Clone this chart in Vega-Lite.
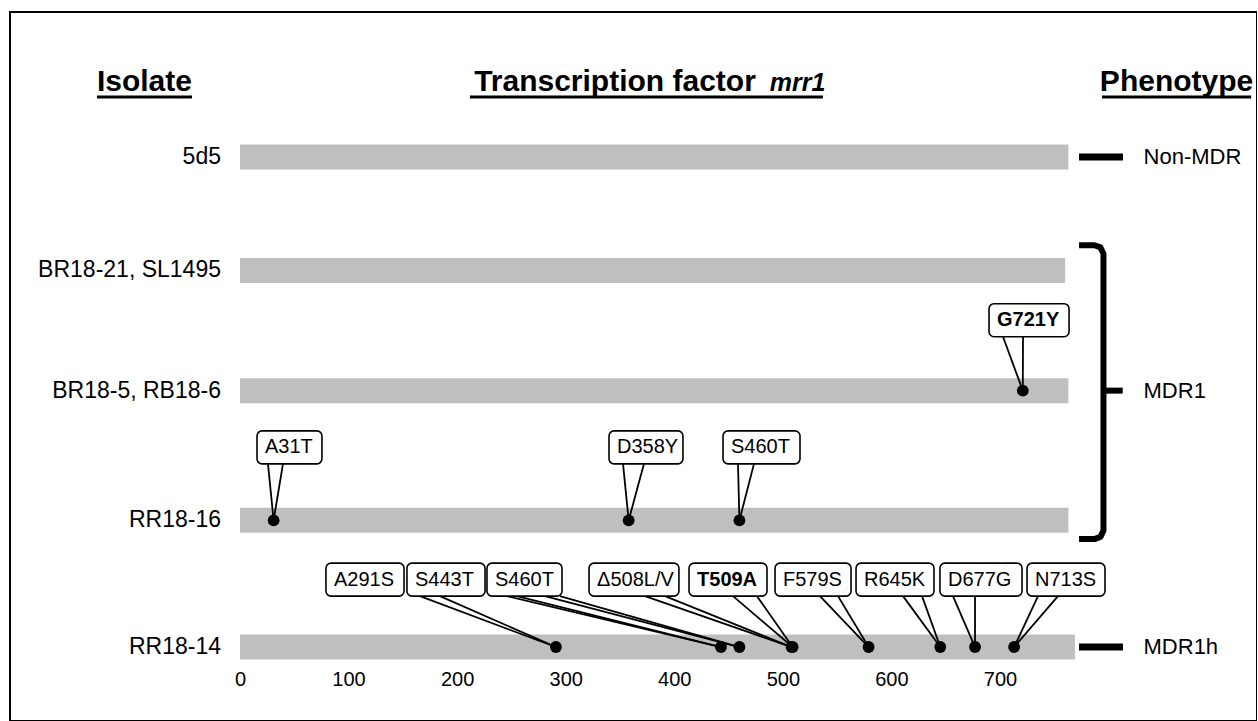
{
  "$schema": "https://vega.github.io/schema/vega-lite/v6.json",
  "width": 1247,
  "height": 709,
  "autosize": {"type": "none"},
  "padding": {"left": 10, "top": 12, "right": 0, "bottom": 0},
  "background": "white",
  "config": {
    "view": {"stroke": "#000", "strokeWidth": 2},
    "font": "Liberation Sans",
    "axisX": {"labelFontSize": 20, "labelFont": "Liberation Sans", "labelColor": "#000", "labelPadding": 0, "tickSize": 0, "ticks": false, "domain": false, "grid": false}
  },
  "datasets": {
    "isolates": [
      {"isolate": "5d5", "track": 0, "from": 0, "to": 763},
      {"isolate": "BR18-21, SL1495", "track": 0.926, "from": 0, "to": 760},
      {"isolate": "BR18-5, RB18-6", "track": 1.907, "from": 0, "to": 763},
      {"isolate": "RR18-16", "track": 2.966, "from": 0, "to": 763},
      {"isolate": "RR18-14", "track": 4, "from": 0, "to": 769}
    ],
    "mutations": [
      {"label": "A31T", "pos": 31, "track": 2.966, "lane": 2.37, "box_lo": 15.7, "box_hi": 75.5, "base_a": 25.8, "base_b": 39.6, "bold": false},
      {"label": "D358Y", "pos": 358, "track": 2.966, "lane": 2.37, "box_lo": 339.9, "box_hi": 408.0, "base_a": 352.8, "base_b": 372.1, "bold": false},
      {"label": "S460T", "pos": 460, "track": 2.966, "lane": 2.37, "box_lo": 444.9, "box_hi": 515.8, "base_a": 458.7, "base_b": 473.4, "bold": false},
      {"label": "G721Y", "pos": 721, "track": 1.907, "lane": 1.332, "box_lo": 689.9, "box_hi": 763.6, "base_a": 702.8, "base_b": 721.2, "bold": true},
      {"label": "A291S", "pos": 291, "track": 4, "lane": 3.45, "box_lo": 79.2, "box_hi": 151.1, "base_a": 165.8, "base_b": 184.2, "bold": false},
      {"label": "S443T", "pos": 443, "track": 4, "lane": 3.45, "box_lo": 153.8, "box_hi": 225.7, "base_a": 245.9, "base_b": 255.1, "bold": false},
      {"label": "S460T", "pos": 460, "track": 4, "lane": 3.45, "box_lo": 227.5, "box_hi": 296.6, "base_a": 280.9, "base_b": 294.7, "bold": false},
      {"label": "Δ508L/V", "pos": 508, "track": 4, "lane": 3.45, "box_lo": 321.5, "box_hi": 404.3, "base_a": 373.0, "base_b": 391.5, "bold": false},
      {"label": "T509A", "pos": 509, "track": 4, "lane": 3.45, "box_lo": 413.6, "box_hi": 485.4, "base_a": 454.1, "base_b": 476.2, "bold": true},
      {"label": "F579S", "pos": 579, "track": 4, "lane": 3.45, "box_lo": 492.8, "box_hi": 562.8, "base_a": 534.2, "base_b": 550.8, "bold": false},
      {"label": "R645K", "pos": 645, "track": 4, "lane": 3.45, "box_lo": 567.4, "box_hi": 639.2, "base_a": 610.7, "base_b": 628.2, "bold": false},
      {"label": "D677G", "pos": 677, "track": 4, "lane": 3.45, "box_lo": 644.7, "box_hi": 720.3, "base_a": 656.7, "base_b": 677.0, "bold": false},
      {"label": "N713S", "pos": 713, "track": 4, "lane": 3.45, "box_lo": 724.9, "box_hi": 796.7, "base_a": 735.0, "base_b": 753.4, "bold": false}
    ],
    "phenotypes": [
      {"phenotype": "Non-MDR", "track": 0},
      {"phenotype": "MDR1", "track": 1.907},
      {"phenotype": "MDR1h", "track": 4}
    ],
    "bracket": [
      {"ord": 1, "bx": 772.8, "by": 0.72},
      {"ord": 2, "bx": 787.0, "by": 0.72},
      {"ord": 3, "bx": 792.5, "by": 0.738},
      {"ord": 4, "bx": 795.3, "by": 0.79},
      {"ord": 5, "bx": 795.3, "by": 3.05},
      {"ord": 6, "bx": 792.5, "by": 3.101},
      {"ord": 7, "bx": 787.0, "by": 3.119},
      {"ord": 8, "bx": 772.8, "by": 3.119}
    ],
    "headers": [
      {"header": "Isolate", "hx": -88, "style": "normal", "ul_from": -131.7, "ul_to": -44.2},
      {"header": "Transcription factor", "hx": 345.4, "style": "normal", "ul_from": 211.8, "ul_to": 536.9},
      {"header": "mrr1", "hx": 513.5, "style": "italic"},
      {"header": "Phenotype", "hx": 862.6, "style": "normal", "ul_from": 794, "ul_to": 931.3}
    ]
  },
  "layer": [
    {
      "data": {"name": "isolates"},
      "mark": {"type": "bar", "size": 25, "color": "#bfbfbf"},
      "encoding": {
        "x": {
          "field": "from", "type": "quantitative", "title": null,
          "scale": {"domain": [-211.8, 936.7], "nice": false, "zero": false},
          "axis": {"values": [0, 100, 200, 300, 400, 500, 600, 700], "domain": false, "ticks": false, "tickSize": 0, "grid": false, "offset": -52, "labelPadding": 0, "labelFontSize": 20, "labelFont": "Liberation Sans", "labelColor": "#000", "labelFlush": false, "labelOverlap": false, "title": null}
        },
        "x2": {"field": "to"},
        "y": {"field": "track", "type": "quantitative", "scale": {"domain": [-1.143, 4.563], "nice": false, "zero": false, "reverse": true}, "axis": null}
      }
    },
    {
      "data": {"name": "isolates"},
      "mark": {"type": "text", "align": "right", "baseline": "middle", "fontSize": 23, "font": "Liberation Sans", "color": "#000"},
      "encoding": {
        "x": {"datum": -17.5, "type": "quantitative", "title": null, "scale": {"domain": [-211.8, 936.7], "nice": false, "zero": false}, "axis": {"values": [0, 100, 200, 300, 400, 500, 600, 700], "domain": false, "ticks": false, "tickSize": 0, "grid": false, "offset": -52, "labelPadding": 0, "labelFontSize": 20, "labelFont": "Liberation Sans", "labelColor": "#000", "labelFlush": false, "labelOverlap": false, "title": null}},
        "y": {"field": "track", "type": "quantitative", "scale": {"domain": [-1.143, 4.563], "nice": false, "zero": false, "reverse": true}, "axis": null},
        "text": {"field": "isolate"}
      }
    },
    {
      "data": {"name": "mutations"},
      "mark": {"type": "rule", "strokeWidth": 1.8, "color": "#000", "yOffset": 16.5},
      "encoding": {
        "x": {"field": "base_a", "type": "quantitative", "title": null, "scale": {"domain": [-211.8, 936.7], "nice": false, "zero": false}, "axis": {"values": [0, 100, 200, 300, 400, 500, 600, 700], "domain": false, "ticks": false, "tickSize": 0, "grid": false, "offset": -52, "labelPadding": 0, "labelFontSize": 20, "labelFont": "Liberation Sans", "labelColor": "#000", "labelFlush": false, "labelOverlap": false, "title": null}},
        "x2": {"field": "pos"},
        "y": {"field": "lane", "type": "quantitative", "scale": {"domain": [-1.143, 4.563], "nice": false, "zero": false, "reverse": true}, "axis": null},
        "y2": {"field": "track"}
      }
    },
    {
      "data": {"name": "mutations"},
      "mark": {"type": "rule", "strokeWidth": 1.8, "color": "#000", "yOffset": 16.5},
      "encoding": {
        "x": {"field": "base_b", "type": "quantitative", "title": null, "scale": {"domain": [-211.8, 936.7], "nice": false, "zero": false}, "axis": {"values": [0, 100, 200, 300, 400, 500, 600, 700], "domain": false, "ticks": false, "tickSize": 0, "grid": false, "offset": -52, "labelPadding": 0, "labelFontSize": 20, "labelFont": "Liberation Sans", "labelColor": "#000", "labelFlush": false, "labelOverlap": false, "title": null}},
        "x2": {"field": "pos"},
        "y": {"field": "lane", "type": "quantitative", "scale": {"domain": [-1.143, 4.563], "nice": false, "zero": false, "reverse": true}, "axis": null},
        "y2": {"field": "track"}
      }
    },
    {
      "data": {"name": "mutations"},
      "mark": {"type": "point", "filled": true, "size": 140, "color": "#000", "opacity": 1},
      "encoding": {
        "x": {"field": "pos", "type": "quantitative", "title": null, "scale": {"domain": [-211.8, 936.7], "nice": false, "zero": false}, "axis": {"values": [0, 100, 200, 300, 400, 500, 600, 700], "domain": false, "ticks": false, "tickSize": 0, "grid": false, "offset": -52, "labelPadding": 0, "labelFontSize": 20, "labelFont": "Liberation Sans", "labelColor": "#000", "labelFlush": false, "labelOverlap": false, "title": null}},
        "y": {"field": "track", "type": "quantitative", "scale": {"domain": [-1.143, 4.563], "nice": false, "zero": false, "reverse": true}, "axis": null}
      }
    },
    {
      "data": {"name": "mutations"},
      "mark": {"type": "bar", "size": 33, "fill": "#fff", "stroke": "#000", "strokeWidth": 1.6, "cornerRadius": 5},
      "encoding": {
        "x": {"field": "box_lo", "type": "quantitative", "title": null, "scale": {"domain": [-211.8, 936.7], "nice": false, "zero": false}, "axis": {"values": [0, 100, 200, 300, 400, 500, 600, 700], "domain": false, "ticks": false, "tickSize": 0, "grid": false, "offset": -52, "labelPadding": 0, "labelFontSize": 20, "labelFont": "Liberation Sans", "labelColor": "#000", "labelFlush": false, "labelOverlap": false, "title": null}},
        "x2": {"field": "box_hi"},
        "y": {"field": "lane", "type": "quantitative", "scale": {"domain": [-1.143, 4.563], "nice": false, "zero": false, "reverse": true}, "axis": null}
      }
    },
    {
      "data": {"name": "mutations"},
      "transform": [{"filter": "!datum.bold"}],
      "mark": {"type": "text", "align": "left", "baseline": "middle", "dx": 8, "fontSize": 20, "font": "Liberation Sans", "color": "#000"},
      "encoding": {
        "x": {"field": "box_lo", "type": "quantitative", "title": null, "scale": {"domain": [-211.8, 936.7], "nice": false, "zero": false}, "axis": {"values": [0, 100, 200, 300, 400, 500, 600, 700], "domain": false, "ticks": false, "tickSize": 0, "grid": false, "offset": -52, "labelPadding": 0, "labelFontSize": 20, "labelFont": "Liberation Sans", "labelColor": "#000", "labelFlush": false, "labelOverlap": false, "title": null}},
        "y": {"field": "lane", "type": "quantitative", "scale": {"domain": [-1.143, 4.563], "nice": false, "zero": false, "reverse": true}, "axis": null},
        "text": {"field": "label"}
      }
    },
    {
      "data": {"name": "mutations"},
      "transform": [{"filter": "datum.bold"}],
      "mark": {"type": "text", "align": "left", "baseline": "middle", "dx": 8, "fontSize": 20, "fontWeight": "bold", "font": "Liberation Sans", "color": "#000"},
      "encoding": {
        "x": {"field": "box_lo", "type": "quantitative", "title": null, "scale": {"domain": [-211.8, 936.7], "nice": false, "zero": false}, "axis": {"values": [0, 100, 200, 300, 400, 500, 600, 700], "domain": false, "ticks": false, "tickSize": 0, "grid": false, "offset": -52, "labelPadding": 0, "labelFontSize": 20, "labelFont": "Liberation Sans", "labelColor": "#000", "labelFlush": false, "labelOverlap": false, "title": null}},
        "y": {"field": "lane", "type": "quantitative", "scale": {"domain": [-1.143, 4.563], "nice": false, "zero": false, "reverse": true}, "axis": null},
        "text": {"field": "label"}
      }
    },
    {
      "data": {"name": "phenotypes"},
      "transform": [{"filter": "datum.phenotype !== 'MDR1'"}],
      "mark": {"type": "rule", "strokeWidth": 7, "color": "#000"},
      "encoding": {
        "x": {"datum": 772.8, "type": "quantitative", "title": null, "scale": {"domain": [-211.8, 936.7], "nice": false, "zero": false}, "axis": {"values": [0, 100, 200, 300, 400, 500, 600, 700], "domain": false, "ticks": false, "tickSize": 0, "grid": false, "offset": -52, "labelPadding": 0, "labelFontSize": 20, "labelFont": "Liberation Sans", "labelColor": "#000", "labelFlush": false, "labelOverlap": false, "title": null}},
        "x2": {"datum": 813.3},
        "y": {"field": "track", "type": "quantitative", "scale": {"domain": [-1.143, 4.563], "nice": false, "zero": false, "reverse": true}, "axis": null}
      }
    },
    {
      "data": {"name": "phenotypes"},
      "transform": [{"filter": "datum.phenotype === 'MDR1'"}],
      "mark": {"type": "rule", "strokeWidth": 6, "color": "#000"},
      "encoding": {
        "x": {"datum": 795.3, "type": "quantitative", "title": null, "scale": {"domain": [-211.8, 936.7], "nice": false, "zero": false}, "axis": {"values": [0, 100, 200, 300, 400, 500, 600, 700], "domain": false, "ticks": false, "tickSize": 0, "grid": false, "offset": -52, "labelPadding": 0, "labelFontSize": 20, "labelFont": "Liberation Sans", "labelColor": "#000", "labelFlush": false, "labelOverlap": false, "title": null}},
        "x2": {"datum": 813},
        "y": {"field": "track", "type": "quantitative", "scale": {"domain": [-1.143, 4.563], "nice": false, "zero": false, "reverse": true}, "axis": null}
      }
    },
    {
      "data": {"name": "bracket"},
      "mark": {"type": "line", "strokeWidth": 6, "color": "#000", "strokeJoin": "round", "strokeCap": "butt"},
      "encoding": {
        "x": {"field": "bx", "type": "quantitative", "title": null, "scale": {"domain": [-211.8, 936.7], "nice": false, "zero": false}, "axis": {"values": [0, 100, 200, 300, 400, 500, 600, 700], "domain": false, "ticks": false, "tickSize": 0, "grid": false, "offset": -52, "labelPadding": 0, "labelFontSize": 20, "labelFont": "Liberation Sans", "labelColor": "#000", "labelFlush": false, "labelOverlap": false, "title": null}},
        "y": {"field": "by", "type": "quantitative", "scale": {"domain": [-1.143, 4.563], "nice": false, "zero": false, "reverse": true}, "axis": null},
        "order": {"field": "ord", "type": "quantitative"}
      }
    },
    {
      "data": {"name": "phenotypes"},
      "mark": {"type": "text", "align": "left", "baseline": "middle", "fontSize": 22, "font": "Liberation Sans", "color": "#000"},
      "encoding": {
        "x": {"datum": 832.2, "type": "quantitative", "title": null, "scale": {"domain": [-211.8, 936.7], "nice": false, "zero": false}, "axis": {"values": [0, 100, 200, 300, 400, 500, 600, 700], "domain": false, "ticks": false, "tickSize": 0, "grid": false, "offset": -52, "labelPadding": 0, "labelFontSize": 20, "labelFont": "Liberation Sans", "labelColor": "#000", "labelFlush": false, "labelOverlap": false, "title": null}},
        "y": {"field": "track", "type": "quantitative", "scale": {"domain": [-1.143, 4.563], "nice": false, "zero": false, "reverse": true}, "axis": null},
        "text": {"field": "phenotype"}
      }
    },
    {
      "data": {"name": "headers"},
      "transform": [{"filter": "datum.style === 'normal'"}],
      "mark": {"type": "text", "align": "center", "baseline": "alphabetic", "fontSize": 30, "fontWeight": "bold", "font": "Liberation Sans", "color": "#000"},
      "encoding": {
        "x": {"field": "hx", "type": "quantitative", "title": null, "scale": {"domain": [-211.8, 936.7], "nice": false, "zero": false}, "axis": {"values": [0, 100, 200, 300, 400, 500, 600, 700], "domain": false, "ticks": false, "tickSize": 0, "grid": false, "offset": -52, "labelPadding": 0, "labelFontSize": 20, "labelFont": "Liberation Sans", "labelColor": "#000", "labelFlush": false, "labelOverlap": false, "title": null}},
        "y": {"datum": -0.537, "type": "quantitative", "scale": {"domain": [-1.143, 4.563], "nice": false, "zero": false, "reverse": true}, "axis": null},
        "text": {"field": "header"}
      }
    },
    {
      "data": {"name": "headers"},
      "transform": [{"filter": "datum.style === 'italic'"}],
      "mark": {"type": "text", "align": "center", "baseline": "alphabetic", "fontSize": 25, "fontWeight": "bold", "fontStyle": "italic", "font": "Liberation Sans", "color": "#000"},
      "encoding": {
        "x": {"field": "hx", "type": "quantitative", "title": null, "scale": {"domain": [-211.8, 936.7], "nice": false, "zero": false}, "axis": {"values": [0, 100, 200, 300, 400, 500, 600, 700], "domain": false, "ticks": false, "tickSize": 0, "grid": false, "offset": -52, "labelPadding": 0, "labelFontSize": 20, "labelFont": "Liberation Sans", "labelColor": "#000", "labelFlush": false, "labelOverlap": false, "title": null}},
        "y": {"datum": -0.537, "type": "quantitative", "scale": {"domain": [-1.143, 4.563], "nice": false, "zero": false, "reverse": true}, "axis": null},
        "text": {"field": "header"}
      }
    },
    {
      "data": {"name": "headers"},
      "transform": [{"filter": "isValid(datum.ul_from)"}],
      "mark": {"type": "rule", "strokeWidth": 3, "color": "#000"},
      "encoding": {
        "x": {"field": "ul_from", "type": "quantitative", "title": null, "scale": {"domain": [-211.8, 936.7], "nice": false, "zero": false}, "axis": {"values": [0, 100, 200, 300, 400, 500, 600, 700], "domain": false, "ticks": false, "tickSize": 0, "grid": false, "offset": -52, "labelPadding": 0, "labelFontSize": 20, "labelFont": "Liberation Sans", "labelColor": "#000", "labelFlush": false, "labelOverlap": false, "title": null}},
        "x2": {"field": "ul_to"},
        "y": {"datum": -0.489, "type": "quantitative", "scale": {"domain": [-1.143, 4.563], "nice": false, "zero": false, "reverse": true}, "axis": null}
      }
    }
  ]
}
